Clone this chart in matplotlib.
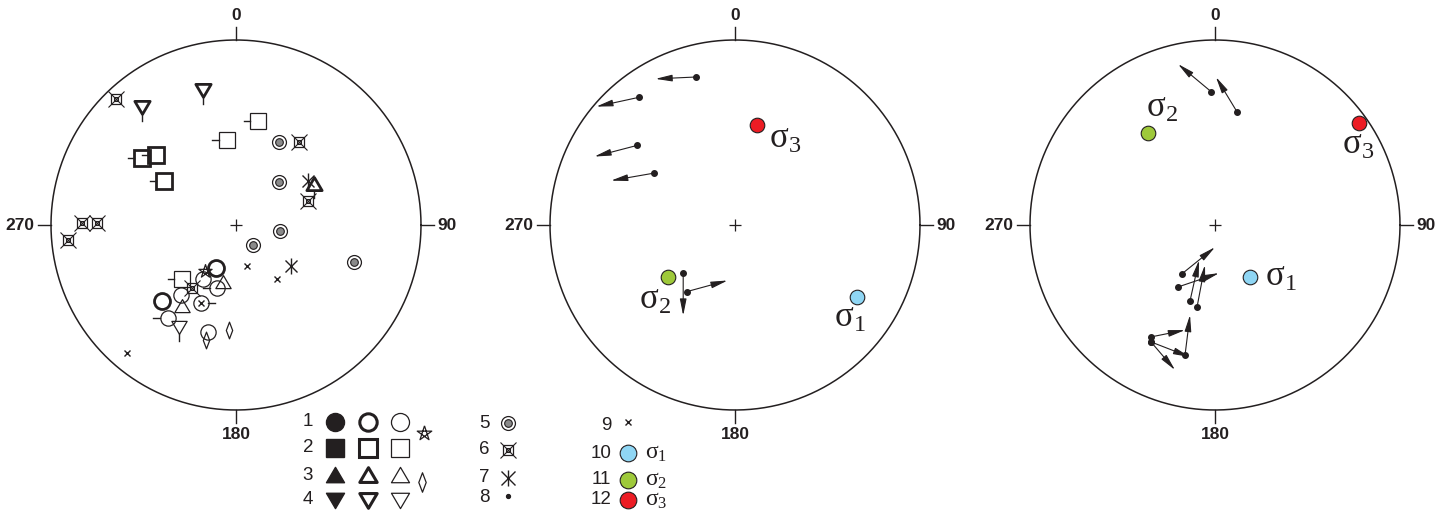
import matplotlib
matplotlib.use('Agg')
import matplotlib.pyplot as plt
import numpy as np
from matplotlib.path import Path

plt.rcParams['font.family'] = ['Liberation Sans', 'DejaVu Sans']
plt.rcParams['mathtext.fontset'] = 'custom'
plt.rcParams['mathtext.rm'] = 'Liberation Serif'
plt.rcParams['mathtext.it'] = 'Liberation Serif:italic'

INK = '#231f20'
GREY = '#8a8a8a'
SIG_COLORS = ['#8fd6f4', '#9ec93a', '#ec1c24']

# Stereonet positions are (east, north) in units of the net radius.

# ---- net 1: poles by symbol group ----
circ_thick = [(-0.11, -0.23), (-0.40, -0.41)]
circ_thin = [(-0.18, -0.29), (-0.10, -0.34), (-0.30, -0.38), (-0.19, -0.42),
             (-0.37, -0.50), (-0.15, -0.58)]
circ_thin_ticks = [None, 270, None, 90, 270, None]
sq_thick = [(-0.51, 0.36), (-0.43, 0.38), (-0.39, 0.24)]
sq_thin = [(0.12, 0.56), (-0.05, 0.46), (-0.29, -0.29)]
tri_up_thick = [(0.42, 0.22)]
tri_up_thin = [(-0.07, -0.31), (-0.29, -0.44)]
tri_dn_thick = [(-0.51, 0.64), (-0.18, 0.73)]
tri_dn_thin = [(-0.31, -0.55)]
stars = [(-0.17, -0.25)]
diamonds = [(-0.04, -0.57), (-0.16, -0.62)]
bullseye = [(0.23, 0.45), (0.23, 0.23), (0.24, -0.03), (0.09, -0.11), (0.64, -0.20)]
boxed_x = [(-0.65, 0.68), (-0.83, 0.01), (-0.75, 0.01), (-0.91, -0.08),
           (0.34, 0.45), (0.39, 0.13), (-0.24, -0.34)]
asterisks = [(0.39, 0.24), (0.30, -0.22)]
crosses = [(0.06, -0.22), (0.22, -0.29), (-0.59, -0.69), (-0.19, -0.42)]

# ---- net 2: slip lineations (start -> end) and principal stresses ----
mid_start = [(-0.21, 0.80), (-0.52, 0.69), (-0.53, 0.43), (-0.44, 0.28),
             (-0.28, -0.26), (-0.26, -0.36)]
mid_end = [(-0.43, 0.79), (-0.75, 0.64), (-0.76, 0.37), (-0.67, 0.24),
           (-0.28, -0.49), (-0.04, -0.30)]
mid_sigma = [(0.66, -0.39), (-0.36, -0.28), (0.12, 0.54)]
mid_sigma_off = [(-5, -15), (-10, -16), (20, -10)]

# ---- net 3 ----
right_start = [(-0.02, 0.72), (0.12, 0.61), (-0.18, -0.265), (-0.20, -0.335),
               (-0.135, -0.41), (-0.097, -0.443), (-0.346, -0.605),
               (-0.162, -0.703), (-0.346, -0.632), (-0.346, -0.632)]
right_end = [(-0.20, 0.87), (0.005, 0.80), (0.0, -0.12), (0.022, -0.26),
             (-0.086, -0.19), (-0.054, -0.216), (-0.162, -0.568),
             (-0.135, -0.486), (-0.135, -0.714), (-0.216, -0.784)]
right_sigma = [(0.19, -0.28), (-0.36, 0.50), (0.78, 0.55)]
right_sigma_off = [(22, 0), (10, 18), (-1, -15)]

azimuths = [0, 90, 180, 270]
azimuth_labels = ['0', '90', '180', '270']
sigma_names = [r'$\mathrm{\sigma}_\mathrm{1}$', r'$\mathrm{\sigma}_\mathrm{2}$',
               r'$\mathrm{\sigma}_\mathrm{3}$']

# custom marker shapes
_a = np.radians(90 + 72 * np.array([0, 2, 4, 1, 3, 0]))
PENTAGRAM = Path(np.column_stack([np.cos(_a), np.sin(_a)]))
DIAMOND = Path([(0, 1), (0.38, 0), (0, -1), (-0.38, 0), (0, 1)], closed=True)
TRI_UP = Path([(-1, -0.8), (1, -0.8), (0, 0.9), (-1, -0.8)], closed=True)
TRI_DN = Path([(-1, 0.8), (1, 0.8), (0, -0.9), (-1, 0.8)], closed=True)

W, H = 1448, 512
R_PX = 185
NET_CENTERS = [(236, 225), (735, 225), (1215, 225)]
LIM = 1.3


def net_axes(fig, cx, cy):
    size = 2 * LIM * R_PX
    ax = fig.add_axes([(cx - LIM * R_PX) / W, (H - cy - LIM * R_PX) / H, size / W, size / H])
    ax.set_xlim(-LIM, LIM)
    ax.set_ylim(-LIM, LIM)
    ax.set_aspect('equal')
    ax.axis('off')
    t = np.linspace(0, 2 * np.pi, 500)
    ax.plot(np.cos(t), np.sin(t), color=INK, lw=1.1)
    for az, lab in zip(azimuths, azimuth_labels):
        dx, dy = np.sin(np.radians(az)), np.cos(np.radians(az))
        ax.plot([dx, 1.07 * dx], [dy, 1.07 * dy], color=INK, lw=1.0)
        ha = {0: 'center', 90: 'left', 180: 'center', 270: 'right'}[az]
        va = {0: 'bottom', 90: 'center', 180: 'top', 270: 'center'}[az]
        ax.text(1.09 * dx, 1.09 * dy, lab, ha=ha, va=va, fontsize=12.5,
                fontweight='bold', color=INK)
    ax.plot(0, 0, '+', ms=9, mew=0.9, color=INK)
    return ax


def sym(ax, pts, marker, ms, lw, fc='none', ticks=None, z=3):
    if not pts:
        return
    x, y = zip(*pts)
    ax.plot(x, y, ls='none', marker=marker, ms=ms, mew=lw, mfc=fc, mec=INK, zorder=z)
    if ticks is not None:
        r0 = ms * 1.389 / 2 / R_PX
        for (px, py), b in zip(pts, ticks):
            if b is None:
                continue
            dx, dy = np.sin(np.radians(b)), np.cos(np.radians(b))
            ax.plot([px + dx * r0, px + dx * (r0 + 0.035)],
                    [py + dy * r0, py + dy * (r0 + 0.035)], color=INK, lw=1.0, zorder=z)


def bullseye_sym(ax, pts, ms_out, ms_in):
    x, y = zip(*pts)
    ax.plot(x, y, ls='none', marker='o', ms=ms_out, mew=0.9, mfc='white', mec=INK, zorder=3)
    ax.plot(x, y, ls='none', marker='o', ms=ms_in, mew=0.8, mfc=GREY, mec=INK, zorder=3)


def boxed_x_sym(ax, pts, s):
    x, y = zip(*pts)
    ax.plot(x, y, ls='none', marker='s', ms=7.5 * s, mew=0.9, mfc='none', mec=INK, zorder=3)
    ax.plot(x, y, ls='none', marker='s', ms=3.2 * s, mew=0.8, mfc='none', mec=INK, zorder=3)
    ax.plot(x, y, ls='none', marker='x', ms=11 * s, mew=0.8, mec=INK, zorder=3)


def asterisk_sym(ax, pts, s):
    x, y = zip(*pts)
    ax.plot(x, y, ls='none', marker='|', ms=11 * s, mew=1.0, mec=INK, zorder=3)
    ax.plot(x, y, ls='none', marker='x', ms=9 * s, mew=1.0, mec=INK, zorder=3)


def slip_arrows(ax, starts, ends):
    for (x0, y0), (x1, y1) in zip(starts, ends):
        ax.annotate('', xy=(x1, y1), xytext=(x0, y0),
                    arrowprops=dict(arrowstyle='-|>,head_length=1.0,head_width=0.2',
                                    color=INK, lw=0.8, shrinkA=0, shrinkB=0))
    x, y = zip(*starts)
    ax.plot(x, y, ls='none', marker='o', ms=4, color=INK, zorder=4)


def sigmas(ax, pts, offsets):
    for (x, y), c, name, off in zip(pts, SIG_COLORS, sigma_names, offsets):
        ax.plot(x, y, 'o', ms=10.5, mfc=c, mec=INK, mew=0.8, zorder=5)
        ax.annotate(name, (x, y), xytext=off, textcoords='offset points',
                    ha='center', va='center', fontsize=25, color=INK)


fig = plt.figure(figsize=(W / 100, H / 100), dpi=100)

# ---- net 1 ----
ax1 = net_axes(fig, *NET_CENTERS[0])
sym(ax1, circ_thick, 'o', 11.5, 2.0)
sym(ax1, circ_thin, 'o', 11, 0.9, ticks=circ_thin_ticks)
sym(ax1, sq_thick, 's', 11, 2.0, ticks=[270] * len(sq_thick))
sym(ax1, sq_thin, 's', 11.5, 0.9, ticks=[270] * len(sq_thin))
sym(ax1, tri_up_thick, TRI_UP, 11, 2.0, ticks=[180])
sym(ax1, tri_up_thin, TRI_UP, 11, 0.9)
sym(ax1, tri_dn_thick, TRI_DN, 11, 2.0, ticks=[180] * len(tri_dn_thick))
sym(ax1, tri_dn_thin, TRI_DN, 11, 0.9, ticks=[180])
sym(ax1, stars, PENTAGRAM, 10, 0.9)
sym(ax1, diamonds, DIAMOND, 12, 0.9)
bullseye_sym(ax1, bullseye, 10, 5.5)
boxed_x_sym(ax1, boxed_x, 1.0)
asterisk_sym(ax1, asterisks, 1.0)
sym(ax1, crosses, 'x', 5, 1.0)

# ---- net 2 ----
ax2 = net_axes(fig, *NET_CENTERS[1])
slip_arrows(ax2, mid_start, mid_end)
sigmas(ax2, mid_sigma, mid_sigma_off)

# ---- net 3 ----
ax3 = net_axes(fig, *NET_CENTERS[2])
slip_arrows(ax3, right_start, right_end)
sigmas(ax3, right_sigma, right_sigma_off)

# ---- key (pixel coordinates) ----
key = fig.add_axes([0, 0, 1, 1])
key.set_xlim(0, W)
key.set_ylim(H, 0)
key.axis('off')
key.patch.set_alpha(0)

row_y = [422, 448, 475, 500]
row_markers = ['o', 's', TRI_UP, TRI_DN]
for i, (y, m) in enumerate(zip(row_y, row_markers)):
    key.text(308, y, str(i + 1), ha='center', va='center', fontsize=13.5, color=INK)
    key.plot(335, y, marker=m, ms=13, mew=1.0, mfc=INK, mec=INK)
    key.plot(368, y, marker=m, ms=12.5, mew=2.2, mfc='none', mec=INK)
    key.plot(400, y, marker=m, ms=13, mew=0.9, mfc='none', mec=INK)
key.plot(424, 433, marker=PENTAGRAM, ms=11, mew=0.9, mfc='none', mec=INK)
key.plot(422, 482, marker=DIAMOND, ms=14, mew=0.9, mfc='none', mec=INK)

col2_y = [423, 450, 478, 498]
for i, y in enumerate(col2_y):
    key.text(484, y, str(i + 5), ha='center', va='center', fontsize=13.5, color=INK)
bullseye_sym(key, [(508, col2_y[0])], 10, 5.5)
boxed_x_sym(key, [(508, col2_y[1])], 1.0)
asterisk_sym(key, [(508, col2_y[2])], 1.1)
key.plot(508, col2_y[3] - 2, 'o', ms=2.8, color=INK)

col3_y = [425, 453, 480, 500]
for i, y in enumerate(col3_y):
    key.text(611, y, str(i + 9), ha='right', va='center', fontsize=13.5, color=INK)
key.plot(628, col3_y[0] - 3, 'x', ms=5, mew=1.0, color=INK)
for y, c, name in zip(col3_y[1:], SIG_COLORS, sigma_names):
    key.plot(628, y, 'o', ms=12, mfc=c, mec=INK, mew=0.8)
    key.text(645, y, name, ha='left', va='center', fontsize=17, color=INK)

fig.savefig('out.png', dpi=100)
